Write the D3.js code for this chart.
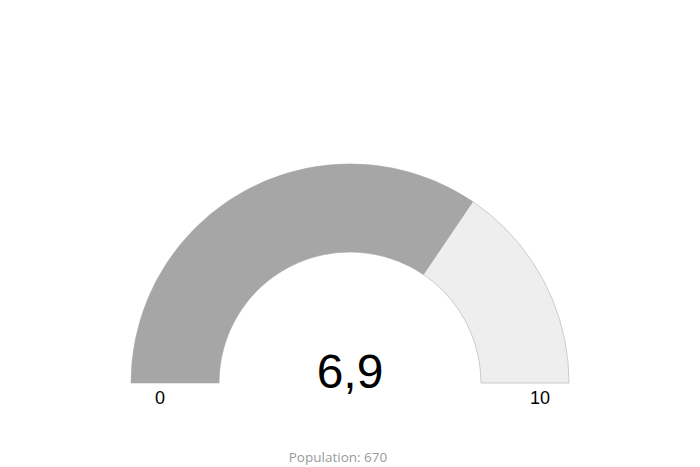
<!DOCTYPE html>
<html lang="en">
  <head>
    <meta charset="utf-8" />
    <script src="https://d3js.org/d3.v7.min.js"></script>
    <style>
      body { margin: 0; background: #fff; }
    </style>
    <title>Gauge</title>
  </head>
  <body>
    <svg id="gauge" width="700" height="467"></svg>

    <script>
      // gauge data
      const gaugeRange = [0, 10];
      const gaugeValue = [6.9];
      const rangeLabels = ["0", "10"];
      const captionText = ["Population: 670"];

      const svg = d3.select("svg#gauge");
      const cx = 350, cy = 383;
      const outerR = 219, innerR = 131;

      const angleScale = d3
        .scaleLinear()
        .domain(gaugeRange)
        .range([-Math.PI / 2, Math.PI / 2]);

      const arc = d3.arc().innerRadius(innerR).outerRadius(outerR);

      const g = svg.append("g").attr("transform", `translate(${cx},${cy})`);

      // background band
      g.append("path")
        .attr("d", arc({ startAngle: angleScale(gaugeRange[0]), endAngle: angleScale(gaugeRange[1]) }))
        .attr("fill", "#eeeeee")
        .attr("stroke", "#cccccc")
        .attr("stroke-width", 1);

      // value band
      g.selectAll("path.value")
        .data(gaugeValue)
        .join("path")
        .attr("class", "value")
        .attr("d", d => arc({ startAngle: angleScale(gaugeRange[0]), endAngle: angleScale(d) }))
        .attr("fill", "#a6a6a6");

      const fmt = d => d3.format(".1f")(d).replace(".", ",");

      g.append("text")
        .attr("x", 0)
        .attr("y", 5)
        .attr("text-anchor", "middle")
        .style("font-family", "Liberation Sans, Arial, sans-serif")
        .style("font-size", "48px")
        .attr("fill", "#000")
        .text(fmt(gaugeValue[0]));

      g.selectAll("text.range")
        .data(rangeLabels)
        .join("text")
        .attr("class", "range")
        .attr("x", (d, i) => (i === 0 ? -190 : 190))
        .attr("y", 21)
        .attr("text-anchor", "middle")
        .style("font-family", "Liberation Sans, Arial, sans-serif")
        .style("font-size", "18px")
        .attr("fill", "#000")
        .text(d => d);

      svg.append("text")
        .attr("x", 338)
        .attr("y", 462)
        .attr("text-anchor", "middle")
        .style("font-family", "Open Sans, sans-serif")
        .style("font-size", "13.5px")
        .attr("fill", "#999")
        .text(captionText[0]);
    </script>
  </body>
</html>
